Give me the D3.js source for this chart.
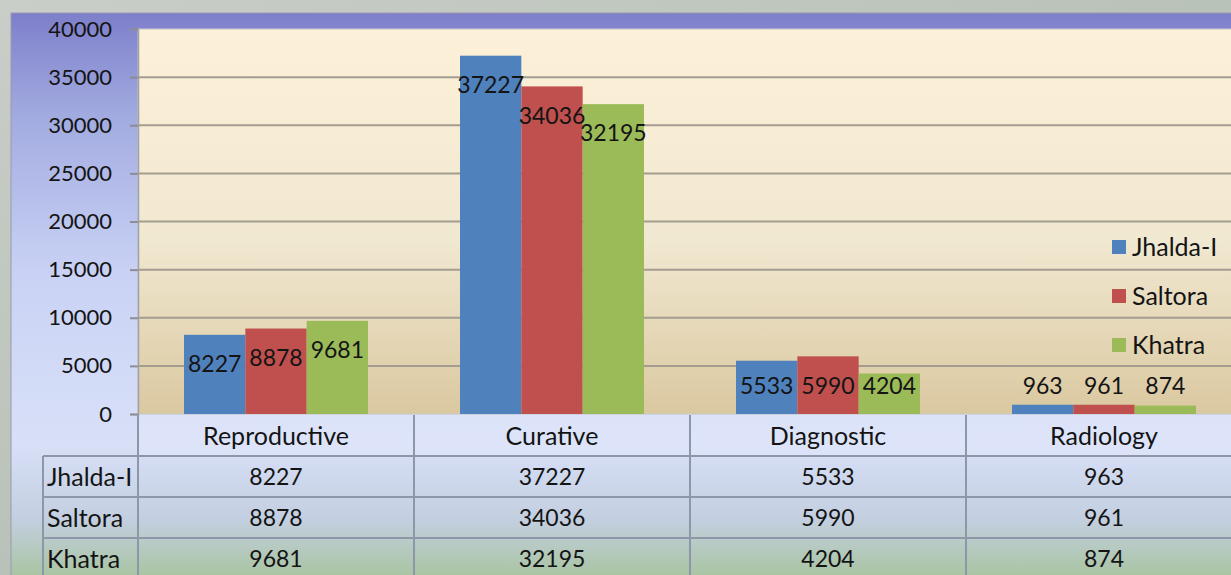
<!DOCTYPE html>
<html>
<head>
<meta charset="utf-8">
<script src="https://cdn.jsdelivr.net/npm/d3@7"></script>
<style>
  html, body { margin: 0; padding: 0; overflow: hidden; }
  body { width: 1231px; height: 575px; background: #c3c9c2; }
  text { font-family: Lato, "Open Sans", sans-serif; fill: #141414; }
</style>
</head>
<body>
<div id="chart"></div>
<script>
// ---------------- DATA ----------------
var categories = ["Reproductive", "Curative", "Diagnostic", "Radiology"];
var seriesNames = ["Jhalda-I", "Saltora", "Khatra"];
var jhaldaValues = [8227, 37227, 5533, 963];
var saltoraValues = [8878, 34036, 5990, 961];
var khatraValues = [9681, 32195, 4204, 874];
var yTickValues = [0, 5000, 10000, 15000, 20000, 25000, 30000, 35000, 40000];
var seriesColors = ["#4f81bd", "#c0504d", "#9bbb59"];

var allSeries = [jhaldaValues, saltoraValues, khatraValues];

// ---------------- CANVAS ----------------
var svgWidth = 1231, svgHeight = 575;
var plot = {left: 138, right: 1242, top: 29, bottom: 414};
var rowH = 41;
var numFont = "22px", cellFont = "23px", wordFont = "25px";

var svg = d3.select("#chart").append("svg")
  .attr("width", svgWidth)
  .attr("height", svgHeight);

var defs = svg.append("defs");

// outer background
var bgGrad = defs.append("linearGradient").attr("id", "bgGrad")
  .attr("x1", 0).attr("y1", 0).attr("x2", 1).attr("y2", 1);
bgGrad.append("stop").attr("offset", "0%").attr("stop-color", "#c9cec8");
bgGrad.append("stop").attr("offset", "50%").attr("stop-color", "#b9c2b8");
bgGrad.append("stop").attr("offset", "100%").attr("stop-color", "#a9b8a4");

// panel gradient: purple top, lavender middle, green bottom
var panelGrad = defs.append("linearGradient").attr("id", "panelGrad")
  .attr("x1", 0).attr("y1", 0).attr("x2", 0).attr("y2", 1);
panelGrad.append("stop").attr("offset", "0%").attr("stop-color", "#7d7fca");
panelGrad.append("stop").attr("offset", "18%").attr("stop-color", "#a2abe0");
panelGrad.append("stop").attr("offset", "45%").attr("stop-color", "#c9d2f4");
panelGrad.append("stop").attr("offset", "75%").attr("stop-color", "#d8e0f8");
panelGrad.append("stop").attr("offset", "88%").attr("stop-color", "#c3cfe0");
panelGrad.append("stop").attr("offset", "100%").attr("stop-color", "#a3c295");

// plot area gradient: cream to tan
var plotGrad = defs.append("linearGradient").attr("id", "plotGrad")
  .attr("x1", 0).attr("y1", 0).attr("x2", 0).attr("y2", 1);
plotGrad.append("stop").attr("offset", "0%").attr("stop-color", "#fdf0d8");
plotGrad.append("stop").attr("offset", "55%").attr("stop-color", "#f1e8d1");
plotGrad.append("stop").attr("offset", "100%").attr("stop-color", "#dac8a0");

svg.append("rect").attr("width", svgWidth).attr("height", svgHeight)
  .attr("fill", "url(#bgGrad)");

svg.append("rect")
  .attr("x", 11).attr("y", 13)
  .attr("width", svgWidth).attr("height", svgHeight)
  .attr("fill", "url(#panelGrad)")
  .attr("stroke", "#9a9ab0").attr("stroke-width", 1);

// ---------------- SCALES ----------------
var x0 = d3.scaleBand().domain(categories).range([plot.left, plot.right]).padding(0);
var x1 = d3.scaleBand().domain(seriesNames)
  .range([x0.bandwidth() / 6, x0.bandwidth() * 5 / 6]).padding(0);
var y = d3.scaleLinear().domain([0, 40000]).range([plot.bottom, plot.top]);

// plot background
svg.append("rect")
  .attr("x", plot.left).attr("y", plot.top)
  .attr("width", plot.right - plot.left).attr("height", plot.bottom - plot.top)
  .attr("fill", "url(#plotGrad)")
  .attr("stroke", "#c8c8c8").attr("stroke-width", 1);

// gridlines
svg.append("g").selectAll("line")
  .data(yTickValues.filter(function(d) { return d > 0 && d < 40000; }))
  .enter().append("line")
    .attr("x1", plot.left).attr("x2", plot.right)
    .attr("y1", function(d) { return y(d); })
    .attr("y2", function(d) { return y(d); })
    .attr("stroke", "#a39d90").attr("stroke-width", 2);

// y axis
var yAxis = d3.axisLeft(y).tickValues(yTickValues).tickSize(8).tickPadding(18)
  .tickFormat(d3.format("d"));
var yAxisG = svg.append("g")
  .attr("transform", "translate(" + plot.left + ",0)")
  .call(yAxis);
yAxisG.select(".domain").attr("stroke", "#a0a0a8").attr("stroke-width", 1.5);
yAxisG.selectAll(".tick line").attr("stroke", "#8d8d92").attr("stroke-width", 2);
yAxisG.selectAll(".tick text")
  .style("font-family", "Lato, 'Open Sans', sans-serif")
  .style("font-size", numFont)
  .attr("fill", "#141414");

// ---------------- BARS ----------------
var barData = [];
categories.forEach(function(c, ci) {
  seriesNames.forEach(function(s, si) {
    barData.push({cat: c, series: s, si: si, value: allSeries[si][ci]});
  });
});

svg.append("g").selectAll("rect")
  .data(barData)
  .enter().append("rect")
    .attr("x", function(d) { return x0(d.cat) + x1(d.series); })
    .attr("y", function(d) { return y(d.value); })
    .attr("width", x1.bandwidth())
    .attr("height", function(d) { return y(0) - y(d.value); })
    .attr("fill", function(d) { return seriesColors[d.si]; });

// data labels
svg.append("g").selectAll("text")
  .data(barData)
  .enter().append("text")
    .attr("x", function(d) { return x0(d.cat) + x1(d.series) + x1.bandwidth() / 2; })
    .attr("y", function(d) { return Math.min(y(d.value) + 29, y(0) - 28); })
    .attr("dy", "0.36em")
    .attr("text-anchor", "middle")
    .style("font-size", cellFont)
    .text(function(d) { return d.value; });

// ---------------- LEGEND ----------------
var legend = svg.append("g").selectAll("g")
  .data(seriesNames)
  .enter().append("g")
    .attr("transform", function(d, i) { return "translate(1112," + (247 + i * 49) + ")"; });
legend.append("rect")
  .attr("x", 0).attr("y", -7).attr("width", 14).attr("height", 14)
  .attr("fill", function(d, i) { return seriesColors[i]; });
legend.append("text")
  .attr("x", 20).attr("dy", "0.36em")
  .style("font-size", wordFont)
  .text(function(d) { return d; });

// ---------------- DATA TABLE ----------------
var table = svg.append("g");
var tableTop = plot.bottom + 1;
var labelLeft = 43;

// header row tint
table.append("rect")
  .attr("x", plot.left).attr("y", tableTop)
  .attr("width", plot.right - plot.left).attr("height", rowH)
  .attr("fill", "#e2e8fb").attr("opacity", 0.55);

// category headers
table.selectAll(".cat")
  .data(categories)
  .enter().append("text")
    .attr("x", function(d) { return x0(d) + x0.bandwidth() / 2; })
    .attr("y", tableTop + rowH / 2)
    .attr("dy", "0.36em")
    .attr("text-anchor", "middle")
    .style("font-size", wordFont)
    .text(function(d) { return d; });

// horizontal lines
table.selectAll(".hline")
  .data(seriesNames)
  .enter().append("line")
    .attr("x1", labelLeft).attr("x2", plot.right)
    .attr("y1", function(d, i) { return tableTop + rowH * (i + 1); })
    .attr("y2", function(d, i) { return tableTop + rowH * (i + 1); })
    .attr("stroke", "#8e97aa").attr("stroke-width", 2);

// vertical lines
table.selectAll(".vline")
  .data(categories)
  .enter().append("line")
    .attr("x1", function(d) { return x0(d); })
    .attr("x2", function(d) { return x0(d); })
    .attr("y1", tableTop).attr("y2", svgHeight)
    .attr("stroke", "#8e97aa").attr("stroke-width", 2);
table.append("line")
  .attr("x1", labelLeft).attr("x2", labelLeft)
  .attr("y1", tableTop + rowH).attr("y2", svgHeight)
  .attr("stroke", "#8e97aa").attr("stroke-width", 2);

// row labels and values
seriesNames.forEach(function(s, si) {
  var rowY = tableTop + rowH * (si + 1) + rowH / 2;
  table.append("text")
    .attr("x", labelLeft + 4).attr("y", rowY).attr("dy", "0.36em")
    .style("font-size", wordFont)
    .text(s);
  table.selectAll(".val" + si)
    .data(allSeries[si])
    .enter().append("text")
      .attr("x", function(d, ci) { return x0(categories[ci]) + x0.bandwidth() / 2; })
      .attr("y", rowY).attr("dy", "0.36em")
      .attr("text-anchor", "middle")
      .style("font-size", cellFont)
      .text(function(d) { return d; });
});
</script>
</body>
</html>
